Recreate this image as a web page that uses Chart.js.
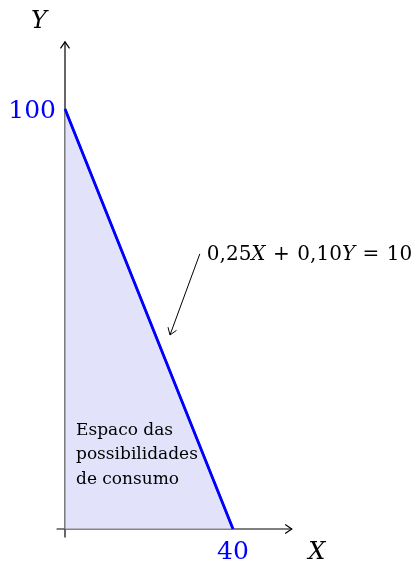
<!DOCTYPE html>
<html lang="pt">
  <head>
    <meta charset="UTF-8" />
    <title>Restrição orçamentária</title>
    <script src="https://cdn.jsdelivr.net/npm/chart.js"></script>
    <style>
      html, body { margin: 0; padding: 0; background: #fff; }
      #wrap { width: 418px; height: 565px; }
    </style>
  </head>
  <body>
    <div id="wrap"><canvas id="budgetChart"></canvas></div>
    <script>
      // budget line 0,25X + 0,10Y = 10
      const xValues = [0, 40];
      const yValues = [100, 0];
      const xTickLabels = ["40"];
      const yTickLabels = ["100"];
      const equationLabel = ["0,25", "X", "+", "0,10", "Y", "=", "10"];
      const regionLabel = ["Espaco das", "possibilidades", "de consumo"];

      const serif = '"DejaVu Serif", "Liberation Serif", serif';

      function arrowHead(ctx, x, y, ang, len) {
        ctx.beginPath();
        ctx.moveTo(x - len * Math.cos(ang - 0.6), y - len * Math.sin(ang - 0.6));
        ctx.lineTo(x, y);
        ctx.lineTo(x - len * Math.cos(ang + 0.6), y - len * Math.sin(ang + 0.6));
        ctx.stroke();
      }

      const axesPlugin = {
        id: "axesPlugin",
        beforeDatasetsDraw(chart) {
          const { ctx, scales } = chart;
          const sx = scales.x, sy = scales.y;
          const x0 = sx.getPixelForValue(0), y0 = sy.getPixelForValue(0);
          ctx.save();
          ctx.strokeStyle = "#000";
          ctx.lineWidth = 1.2;
          // x axis
          ctx.beginPath();
          ctx.moveTo(sx.left, y0);
          ctx.lineTo(sx.right, y0);
          ctx.stroke();
          arrowHead(ctx, sx.right, y0, 0, 8);
          // y axis
          ctx.beginPath();
          ctx.moveTo(x0, sy.bottom);
          ctx.lineTo(x0, sy.top);
          ctx.stroke();
          arrowHead(ctx, x0, sy.top, -Math.PI / 2, 8);
          ctx.restore();
        },
        afterDatasetsDraw(chart) {
          const { ctx, scales } = chart;
          const sx = scales.x, sy = scales.y;
          const x0 = sx.getPixelForValue(0), y0 = sy.getPixelForValue(0);
          ctx.save();
          // gray outline of the feasible region
          ctx.strokeStyle = "#8a8a8a";
          ctx.lineWidth = 1.2;
          ctx.beginPath();
          ctx.moveTo(sx.getPixelForValue(xValues[0]), sy.getPixelForValue(yValues[0]));
          ctx.lineTo(x0, y0);
          ctx.lineTo(sx.getPixelForValue(xValues[1]), sy.getPixelForValue(yValues[1]));
          ctx.stroke();
          // redraw budget line on top
          ctx.strokeStyle = "#0000ff";
          ctx.lineWidth = 2.5;
          ctx.beginPath();
          ctx.moveTo(sx.getPixelForValue(xValues[0]), sy.getPixelForValue(yValues[0]));
          ctx.lineTo(sx.getPixelForValue(xValues[1]), sy.getPixelForValue(yValues[1]));
          ctx.stroke();

          // tick labels
          ctx.fillStyle = "#0000ff";
          ctx.font = "25px " + serif;
          ctx.textBaseline = "middle";
          ctx.textAlign = "right";
          ctx.fillText(yTickLabels[0], x0 - 9, sy.getPixelForValue(yValues[0]) + 2);
          ctx.textAlign = "center";
          ctx.fillText(xTickLabels[0], sx.getPixelForValue(xValues[1]), y0 + 23);

          // axis names
          ctx.fillStyle = "#000";
          ctx.font = "italic 24px " + serif;
          ctx.textAlign = "center";
          ctx.fillText("Y", x0 - 26, sy.top - 20);
          ctx.fillText("X", sx.right + 25, y0 + 24);

          // annotation arrow
          const ax1 = sx.getPixelForValue(32.1), ay1 = sy.getPixelForValue(65.5);
          const ax2 = sx.getPixelForValue(25), ay2 = sy.getPixelForValue(46.2);
          ctx.strokeStyle = "#000";
          ctx.lineWidth = 1;
          ctx.beginPath();
          ctx.moveTo(ax1, ay1);
          ctx.lineTo(ax2, ay2);
          ctx.stroke();
          arrowHead(ctx, ax2, ay2, Math.atan2(ay2 - ay1, ax2 - ax1), 8);

          // equation text, math spacing around operators
          let tx = ax1 + 7;
          const ty = ay1 + 1;
          ctx.textAlign = "left";
          equationLabel.forEach((part) => {
            const isVar = part === "X" || part === "Y";
            const isOp = part === "+" || part === "=";
            ctx.font = (isVar ? "italic " : "") + "20px " + serif;
            if (isOp) tx += 7.5;
            ctx.fillText(part, tx, ty);
            tx += ctx.measureText(part).width + (isOp ? 7.5 : 0);
          });

          // region text
          ctx.font = "17px " + serif;
          regionLabel.forEach((line, i) => {
            ctx.fillText(line, x0 + 11, sy.getPixelForValue(23.5) + i * 24.5);
          });
          ctx.restore();
        },
      };

      new Chart(document.getElementById("budgetChart"), {
        type: "scatter",
        data: {
          datasets: [
            {
              data: xValues.map((x, i) => ({ x: x, y: yValues[i] })),
              showLine: true,
              borderColor: "#0000ff",
              borderWidth: 2.5,
              backgroundColor: "rgba(226, 226, 250, 1)",
              fill: "origin",
              pointRadius: 0,
              tension: 0,
            },
          ],
        },
        options: {
          responsive: true,
          maintainAspectRatio: false,
          animation: false,
          layout: { padding: { left: 56.6, right: 126.2, top: 41.8, bottom: 27.6 } },
          plugins: { legend: { display: false }, tooltip: { enabled: false } },
          scales: {
            x: { type: "linear", min: -2, max: 54, display: false },
            y: { type: "linear", min: -2, max: 116, display: false },
          },
        },
        plugins: [axesPlugin],
      });
    </script>
  </body>
</html>
